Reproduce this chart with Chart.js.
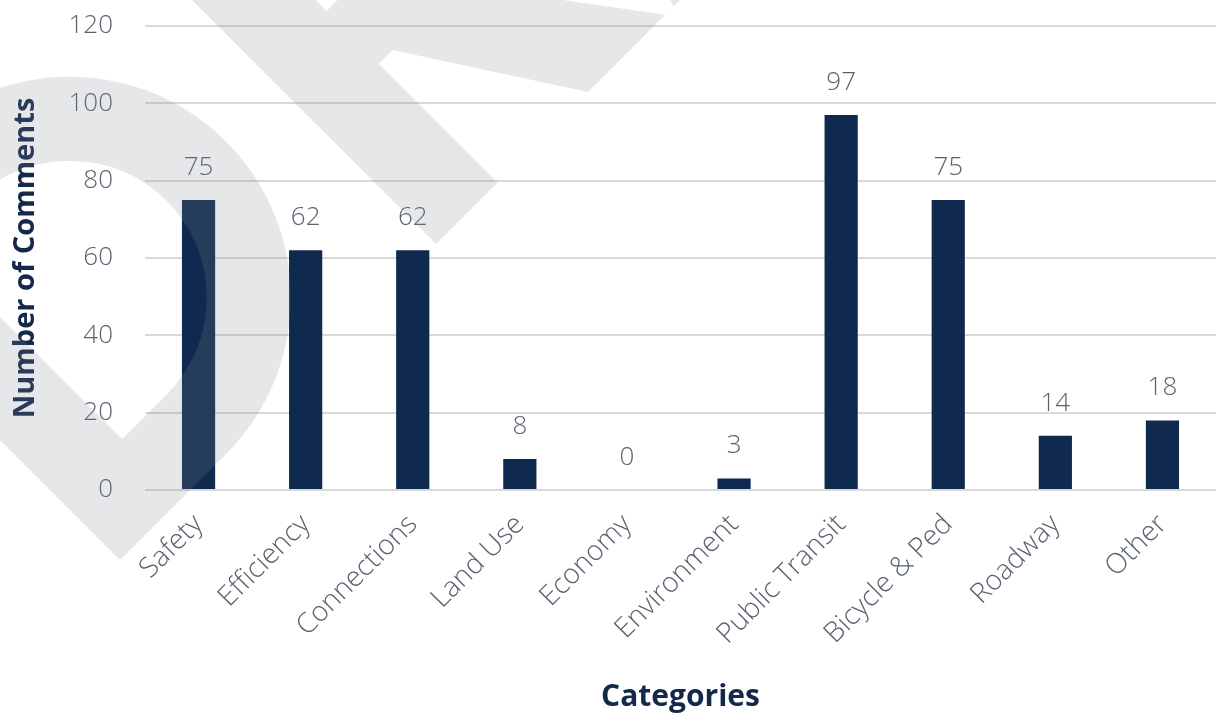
<!DOCTYPE html>
<html>
<head>
<meta charset="utf-8">
<script src="https://cdn.jsdelivr.net/npm/chart.js@4/dist/chart.umd.min.js"></script>
<style>
  html, body { margin: 0; padding: 0; background: #ffffff; }
  #wrap { width: 1216px; height: 715px; }
</style>
</head>
<body>
<div id="wrap"><canvas id="c" width="1216" height="715"></canvas></div>
<script>
// ---- data ----
const categories = ["Safety", "Efficiency", "Connections", "Land Use", "Economy", "Environment", "Public Transit", "Bicycle & Ped", "Roadway", "Other"];
const comments = [75, 62, 62, 8, 0, 3, 97, 75, 14, 18];
const yTicks = [0, 20, 40, 60, 80, 100, 120];
const yTitle = "Number of Comments";
const xTitle = "Categories";

const NAVY = "#0f2a4e";
const TITLE = "#14294a";
const GREY_TEXT = "#5a6270";
const GRID = "#d9d9d9";
const FONT = '"Open Sans", "Noto Sans", sans-serif';

const valueLabels = {
  id: "valueLabels",
  afterDatasetsDraw(chart) {
    const ctx = chart.ctx;
    const meta = chart.getDatasetMeta(0);
    ctx.save();
    ctx.font = `300 26px ${FONT}`;
    ctx.fillStyle = GREY_TEXT;
    ctx.textAlign = "center";
    ctx.textBaseline = "alphabetic";
    meta.data.forEach((bar, i) => {
      ctx.fillText(String(comments[i]), bar.x, bar.y - 25);
    });
    ctx.restore();
  }
};

// faint "DRAFT" watermark (only the D, R and the foot of the A fall inside the picture)
const watermark = {
  id: "watermark",
  afterDraw(chart) {
    const main = chart.ctx;
    const off = document.createElement("canvas");
    off.width = chart.width;
    off.height = chart.height;
    const ctx = off.getContext("2d");
    ctx.fillStyle = "#80858f";
    ctx.translate(120, 560);
    ctx.rotate(-Math.PI / 4);
    // D
    ctx.beginPath();
    ctx.moveTo(0, 0);
    ctx.lineTo(150, 0);
    ctx.arc(150, -221, 221, Math.PI / 2, -Math.PI / 2, true);
    ctx.lineTo(0, -442);
    ctx.closePath();
    ctx.moveTo(87, -84);
    ctx.lineTo(150, -84);
    ctx.arc(150, -221, 137, Math.PI / 2, -Math.PI / 2, true);
    ctx.lineTo(87, -358);
    ctx.closePath();
    ctx.fill("evenodd");
    // R
    ctx.translate(447, 0);
    ctx.fillRect(0, -442, 87, 442);
    ctx.beginPath();
    ctx.moveTo(0, -168);
    ctx.lineTo(175, -168);
    ctx.arc(175, -305, 137, Math.PI / 2, -Math.PI / 2, true);
    ctx.lineTo(0, -442);
    ctx.closePath();
    ctx.moveTo(87, -242);
    ctx.lineTo(175, -242);
    ctx.arc(175, -305, 63, Math.PI / 2, -Math.PI / 2, true);
    ctx.lineTo(87, -368);
    ctx.closePath();
    ctx.fill("evenodd");
    ctx.beginPath();
    ctx.moveTo(215, 0);
    ctx.lineTo(324, 0);
    ctx.lineTo(152, -230);
    ctx.lineTo(87, -230);
    ctx.lineTo(87, -198);
    ctx.closePath();
    ctx.fill();
    // A (left foot)
    ctx.beginPath();
    ctx.moveTo(336, 0);
    ctx.lineTo(440, 0);
    ctx.lineTo(585, -442);
    ctx.lineTo(480, -442);
    ctx.closePath();
    ctx.fill();

    main.save();
    main.globalAlpha = 0.2;
    main.drawImage(off, 0, 0);
    main.restore();
  }
};

new Chart(document.getElementById("c"), {
  type: "bar",
  data: {
    labels: categories,
    datasets: [{
      data: comments,
      backgroundColor: NAVY,
      borderWidth: 0,
      categoryPercentage: 1.0,
      barPercentage: 0.31
    }]
  },
  options: {
    responsive: false,
    animation: false,
    layout: { padding: { top: 26, right: 0, left: 0, bottom: 0 } },
    plugins: {
      legend: { display: false },
      tooltip: { enabled: false }
    },
    scales: {
      x: {
        grid: { display: false, drawTicks: false },
        border: { display: false },
        ticks: {
          color: GREY_TEXT,
          font: { family: FONT, size: 28, weight: "300" },
          minRotation: 45,
          maxRotation: 45,
          padding: 18,
          autoSkip: false
        },
        title: {
          display: true,
          text: xTitle,
          color: TITLE,
          font: { family: FONT, size: 30, weight: "bold" },
          padding: { top: 0, bottom: 0 }
        },
        afterFit(scale) { scale.height = 225; }
      },
      y: {
        min: 0,
        max: 120,
        afterBuildTicks(scale) { scale.ticks = yTicks.map(v => ({ value: v })); },
        grid: { color: GRID, lineWidth: 2, drawTicks: false },
        border: { display: false },
        ticks: {
          color: GREY_TEXT,
          font: { family: FONT, size: 26, weight: "300" },
          padding: 32
        },
        title: {
          display: true,
          text: yTitle,
          color: TITLE,
          font: { family: FONT, size: 29, weight: "bold" },
          padding: { top: 8, bottom: 0 }
        },
        afterFit(scale) {
          scale.width = 145;
          scale.paddingTop = 0;
          scale.paddingBottom = 0;
        }
      }
    }
  },
  plugins: [valueLabels, watermark]
});
</script>
</body>
</html>
